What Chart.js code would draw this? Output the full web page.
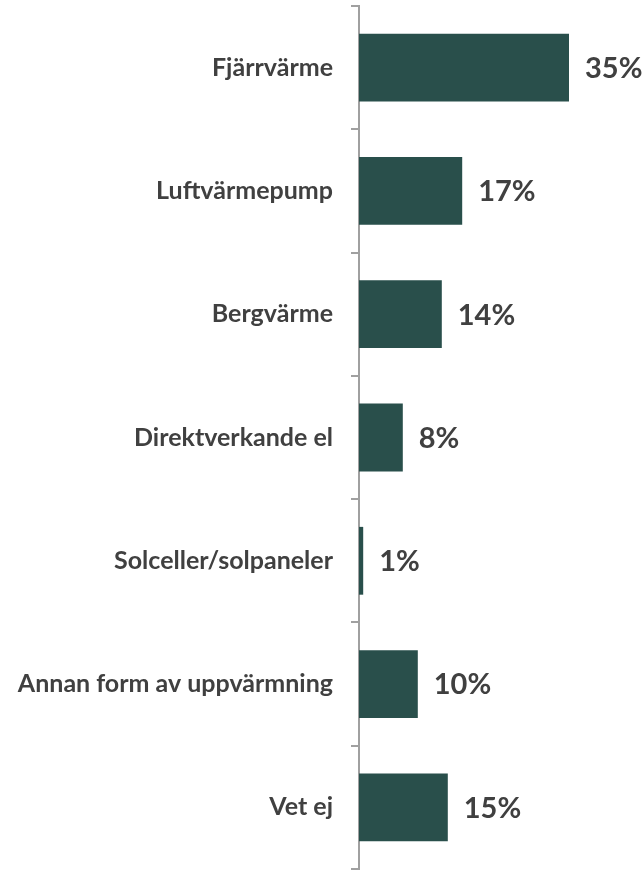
<!DOCTYPE html>
<html>
<head>
<meta charset="utf-8">
<script src="https://cdn.jsdelivr.net/npm/chart.js@4.4.0/dist/chart.umd.min.js"></script>
<style>
  html, body { margin: 0; padding: 0; background: #fff; }
  #wrap { width: 644px; height: 870px; }
</style>
</head>
<body>
<div id="wrap"><canvas id="myChart"></canvas></div>
<script>
// Categories and values
const categories = ["Fjärrvärme", "Luftvärmepump", "Bergvärme", "Direktverkande el",
  "Solceller/solpaneler", "Annan form av uppvärmning", "Vet ej"];
// bar lengths (percent)
const shares = [35.0, 17.2, 13.8, 7.3, 0.7, 9.8, 14.8];
// labels printed next to the bars
const shareLabels = ["35%", "17%", "14%", "8%", "1%", "10%", "15%"];

const textColor = '#404040';
const axisGray = '#a0a0a0';

// draws the percent text at the end of every bar
const barValueLabels = {
  id: 'barValueLabels',
  afterDatasetsDraw(chart) {
    const ctx = chart.ctx;
    const meta = chart.getDatasetMeta(0);
    ctx.save();
    ctx.font = 'bold 29px Lato';
    ctx.fillStyle = textColor;
    ctx.textAlign = 'left';
    ctx.textBaseline = 'middle';
    meta.data.forEach((bar, i) => {
      ctx.fillText(shareLabels[i], bar.x + 16, bar.y + 1);
    });
    ctx.restore();
  }
};

const ctx = document.getElementById('myChart').getContext('2d');
const myChart = new Chart(ctx, {
  type: 'bar',
  data: {
    labels: categories,
    datasets: [{
      data: shares,
      backgroundColor: '#294f4b',
      borderWidth: 0,
      barPercentage: 0.55,
      categoryPercentage: 1.0
    }]
  },
  options: {
    indexAxis: 'y',
    responsive: true,
    maintainAspectRatio: false,
    animation: false,
    layout: {
      padding: { top: 6, bottom: 1, left: 0, right: 0 }
    },
    plugins: {
      legend: { display: false },
      tooltip: { enabled: false }
    },
    scales: {
      x: {
        display: false,
        min: 0,
        max: 47.5
      },
      y: {
        afterFit(scale) {
          scale.width = 359;
          // no extra room for the first/last label
          scale.paddingTop = 0;
          scale.paddingBottom = 0;
        },
        border: {
          display: true,
          color: axisGray,
          width: 2
        },
        grid: {
          display: true,
          drawOnChartArea: false,
          drawTicks: true,
          tickLength: 8,
          color: axisGray,
          lineWidth: 2
        },
        ticks: {
          color: textColor,
          padding: 18,
          font: {
            family: 'Lato',
            size: 25,
            weight: 'bold'
          }
        }
      }
    }
  },
  plugins: [barValueLabels]
});
</script>
</body>
</html>
